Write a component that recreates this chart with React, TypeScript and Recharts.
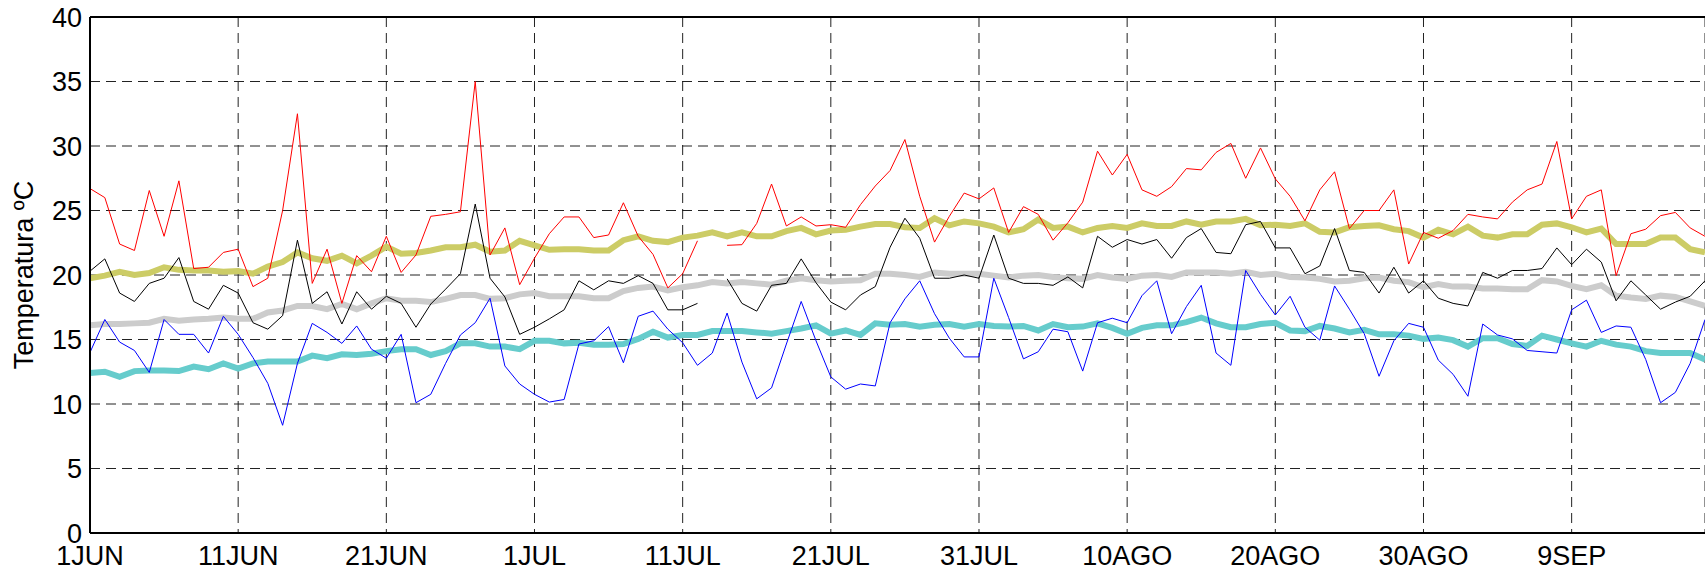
import { CartesianGrid, Line, LineChart, ReferenceLine, XAxis, YAxis } from "recharts";

// daily values from 1 JUN (index 0) to 18 SEP (index 109)
const tmax = [
  26.7, 26.0, 22.4, 21.9, 26.55, 23.0, 27.3, 20.5, 20.6, 21.75,
  22.0, 19.1, 19.75, 25.0, 32.5, 19.35, 22.0, 17.8, 21.5, 20.25,
  23.0, 20.2, 21.55, 24.55, 24.7, 24.9, 35.0, 21.55, 23.65, 19.25,
  21.3, 23.2, 24.5, 24.5, 22.9, 23.1, 25.6, 23.0, 21.6, 19.0,
  20.1, 22.65, null, 22.3, 22.35, 24.0, 27.05, 23.8, 24.5, 23.8,
  23.9, 23.7, 25.45, 26.9, 28.1, 30.5, 26.1, 22.55, 24.55, 26.35,
  25.9, 26.75, 23.3, 25.3, 24.7, 22.7, 24.05, 25.65, 29.6, 27.75,
  29.35, 26.6, 26.1, 26.85, 28.25, 28.15, 29.5, 30.2, 27.5, 29.85,
  27.45, 26.1, 24.2, 26.6, 28.0, 23.6, 25.0, 25.0, 26.6, 20.85,
  23.3, 22.85, 23.45, 24.7, 24.5, 24.35, 25.65, 26.6, 27.05, 30.35,
  24.35, 26.1, 26.6, 19.95, 23.2, 23.55, 24.6, 24.85, 23.65, 23.0,
];

const tmean = [
  20.3, 21.25, 18.6, 17.95, 19.35, 19.75, 21.35, 17.95, 17.35, 19.2,
  18.6, 16.3, 15.8, 16.85, 22.7, 17.8, 18.7, 16.2, 18.7, 17.35,
  18.35, 17.8, 15.95, 17.75, 18.9, 20.1, 25.5, 19.75, 18.3, 15.4,
  15.95, 16.6, 17.3, 19.55, 18.85, 19.55, 19.35, 19.95, 19.35, 17.3,
  17.3, 17.8, null, 19.7, 17.8, 17.2, 19.2, 19.35, 21.25, 19.4,
  17.9, 17.3, 18.45, 19.1, 22.15, 24.4, 22.85, 19.75, 19.75, 20.0,
  19.75, 23.1, 19.75, 19.35, 19.35, 19.2, 19.85, 19.0, 23.0, 22.15,
  22.75, 22.4, 22.75, 21.3, 22.9, 23.6, 21.75, 21.65, 23.9, 24.15,
  22.1, 22.1, 20.1, 20.7, 23.6, 20.35, 20.2, 18.6, 20.6, 18.6,
  19.55, 18.2, 17.8, 17.6, 20.2, 19.75, 20.35, 20.35, 20.5, 22.1,
  20.8, 22.0, 21.0, 18.0, 19.55, 18.45, 17.35, 17.9, 18.35, 19.55,
];

const tmin = [
  14.0, 16.55, 14.8, 14.15, 12.45, 16.55, 15.4, 15.4, 13.95, 16.8,
  15.4, 13.6, 11.6, 8.35, 13.15, 16.25, 15.55, 14.7, 16.05, 14.25,
  13.55, 15.4, 10.1, 10.75, 13.15, 15.35, 16.3, 18.2, 12.95, 11.55,
  10.75, 10.15, 10.35, 14.65, 14.9, 16.0, 13.2, 16.8, 17.2, 15.8,
  14.75, 13.0, 13.95, 17.05, 13.25, 10.4, 11.25, 14.65, 17.95, 14.9,
  12.1, 11.15, 11.55, 11.4, 16.3, 18.15, 19.55, 17.0, 15.1, 13.65,
  13.65, 19.75, 16.7, 13.5, 14.05, 15.8, 15.6, 12.55, 16.3, 16.65,
  16.3, 18.4, 19.55, 15.45, 17.55, 19.2, 13.95, 13.0, 20.35, 18.5,
  16.9, 18.35, 15.95, 14.95, 19.15, 17.35, 15.45, 12.15, 14.9, 16.25,
  15.95, 13.4, 12.3, 10.6, 16.2, 15.35, 15.05, 14.15, 14.05, 13.95,
  17.3, 18.05, 15.55, 16.05, 15.95, 13.45, 10.1, 10.9, 13.15, 16.55,
];

// climatology
const tmaxClim = [
  19.75, 19.95, 20.25, 20.0, 20.15, 20.6, 20.4, 20.35, 20.35, 20.25,
  20.3, 20.1, 20.65, 21.0, 21.75, 21.3, 21.1, 21.5, 20.9, 21.5,
  22.2, 21.65, 21.7, 21.9, 22.15, 22.15, 22.35, 21.8, 21.9, 22.65,
  22.3, 21.95, 22.0, 22.0, 21.9, 21.9, 22.7, 23.0, 22.65, 22.55,
  22.9, 23.05, 23.3, 23.0, 23.3, 23.0, 23.0, 23.4, 23.65, 23.15,
  23.45, 23.5, 23.75, 23.95, 23.95, 23.7, 23.65, 24.4, 23.85, 24.15,
  24.0, 23.75, 23.3, 23.55, 24.3, 23.65, 23.75, 23.3, 23.65, 23.8,
  23.65, 24.0, 23.8, 23.8, 24.15, 23.9, 24.15, 24.15, 24.35, 23.85,
  23.9, 23.8, 24.0, 23.35, 23.3, 23.7, 23.8, 23.85, 23.55, 23.4,
  22.9, 23.5, 23.15, 23.75, 23.05, 22.9, 23.15, 23.15, 23.9, 24.0,
  23.7, 23.3, 23.6, 22.4, 22.4, 22.4, 22.9, 22.9, 22.0, 21.75,
];

const tmeanClim = [
  16.1, 16.2, 16.2, 16.25, 16.3, 16.6, 16.45, 16.55, 16.6, 16.7,
  16.6, 16.6, 17.1, 17.25, 17.6, 17.6, 17.35, 17.75, 17.35, 17.8,
  18.2, 18.0, 18.0, 17.9, 18.15, 18.45, 18.45, 18.15, 18.2, 18.5,
  18.6, 18.35, 18.35, 18.35, 18.2, 18.2, 18.75, 19.0, 19.1, 18.8,
  19.05, 19.2, 19.45, 19.35, 19.45, 19.35, 19.25, 19.55, 19.75, 19.6,
  19.5, 19.55, 19.6, 20.1, 20.1, 20.0, 19.85, 20.2, 20.1, 20.1,
  20.1, 19.95, 19.8, 19.95, 20.0, 19.85, 19.75, 19.7, 20.0, 19.8,
  19.7, 19.95, 20.0, 19.85, 20.2, 20.2, 20.2, 20.1, 20.25, 20.0,
  20.1, 19.85, 19.8, 19.7, 19.5, 19.55, 19.75, 19.8, 19.55, 19.45,
  19.05, 19.3, 19.1, 19.1, 18.95, 18.95, 18.9, 18.9, 19.6, 19.5,
  19.15, 18.9, 19.2, 18.4, 18.25, 18.15, 18.4, 18.3, 17.95, 17.6,
];

const tminClim = [
  12.4, 12.5, 12.1, 12.55, 12.6, 12.6, 12.55, 12.9, 12.7, 13.15,
  12.75, 13.15, 13.3, 13.3, 13.3, 13.75, 13.55, 13.85, 13.8, 13.9,
  14.1, 14.25, 14.25, 13.8, 14.1, 14.7, 14.7, 14.45, 14.45, 14.25,
  14.9, 14.9, 14.7, 14.75, 14.6, 14.6, 14.65, 15.05, 15.6, 15.15,
  15.35, 15.35, 15.65, 15.65, 15.65, 15.55, 15.45, 15.65, 15.85, 16.1,
  15.45, 15.7, 15.35, 16.25, 16.15, 16.2, 16.0, 16.15, 16.2, 16.0,
  16.2, 16.05, 16.0, 16.05, 15.7, 16.2, 15.95, 16.0, 16.25, 15.9,
  15.45, 15.9, 16.1, 16.1, 16.35, 16.7, 16.25, 15.95, 15.95, 16.2,
  16.3, 15.7, 15.65, 16.05, 15.85, 15.55, 15.75, 15.4, 15.4, 15.3,
  15.05, 15.15, 14.95, 14.45, 15.1, 15.1, 14.65, 14.5, 15.3, 15.0,
  14.7, 14.45, 14.9, 14.6, 14.45, 14.1, 13.95, 13.95, 13.95, 13.45,
];

const xTicks = [0, 10, 20, 30, 40, 50, 60, 70, 80, 90, 100];
const xTickLabels = ["1JUN", "11JUN", "21JUN", "1JUL", "11JUL", "21JUL", "31JUL", "10AGO", "20AGO", "30AGO", "9SEP"];
const yTicks = [0, 5, 10, 15, 20, 25, 30, 35, 40];

const data = tmax.map((v, i) => ({
  day: i,
  tmax: v,
  tmean: tmean[i],
  tmin: tmin[i],
  tmaxClim: tmaxClim[i],
  tmeanClim: tmeanClim[i],
  tminClim: tminClim[i],
}));

const FONT = "'Liberation Sans', Arial, sans-serif";

const XTick = (props: any) => {
  const { x, y, payload } = props;
  const idx = xTicks.indexOf(payload.value);
  return (
    <text x={x} y={y} dy={24} textAnchor="middle" fontSize={27} fontFamily={FONT} fill="#000">
      {xTickLabels[idx]}
    </text>
  );
};

const YTitle = () => (
  <text
    x={33}
    y={275}
    transform="rotate(-90 33 275)"
    textAnchor="middle"
    fontSize={27}
    fontFamily={FONT}
    fill="#000"
  >
    Temperatura ºC
  </text>
);

export default function App() {
  return (
    <div style={{ position: "absolute", left: 0, top: 0 }}>
      <LineChart width={1705} height={572} data={data} margin={{ top: 17, right: 0, left: 0, bottom: 0 }}>
        <CartesianGrid stroke="#222" strokeDasharray="10 6" />
        <XAxis
          dataKey="day"
          type="number"
          domain={[0, 109]}
          ticks={xTicks}
          interval={0}
          height={39}
          axisLine={{ stroke: "#000", strokeWidth: 2 }}
          tickLine={false}
          tick={<XTick />}
        />
        <YAxis
          type="number"
          domain={[0, 40]}
          ticks={yTicks}
          interval={0}
          width={90}
          axisLine={{ stroke: "#000", strokeWidth: 2 }}
          tickLine={false}
          tick={{ fontSize: 27, fontFamily: FONT, fill: "#000" }}
          label={<YTitle />}
        />
        <ReferenceLine y={40} stroke="#000" strokeWidth={2} />
        <Line dataKey="tmaxClim" stroke="#cccc66" strokeWidth={6} dot={false} isAnimationActive={false} />
        <Line dataKey="tmeanClim" stroke="#cccccc" strokeWidth={6} dot={false} isAnimationActive={false} />
        <Line dataKey="tminClim" stroke="#66cccc" strokeWidth={6} dot={false} isAnimationActive={false} />
        <Line dataKey="tmax" stroke="#ff0000" strokeWidth={1} dot={false} isAnimationActive={false} />
        <Line dataKey="tmean" stroke="#000000" strokeWidth={1} dot={false} isAnimationActive={false} />
        <Line dataKey="tmin" stroke="#0000ff" strokeWidth={1} dot={false} isAnimationActive={false} />
      </LineChart>
    </div>
  );
}
